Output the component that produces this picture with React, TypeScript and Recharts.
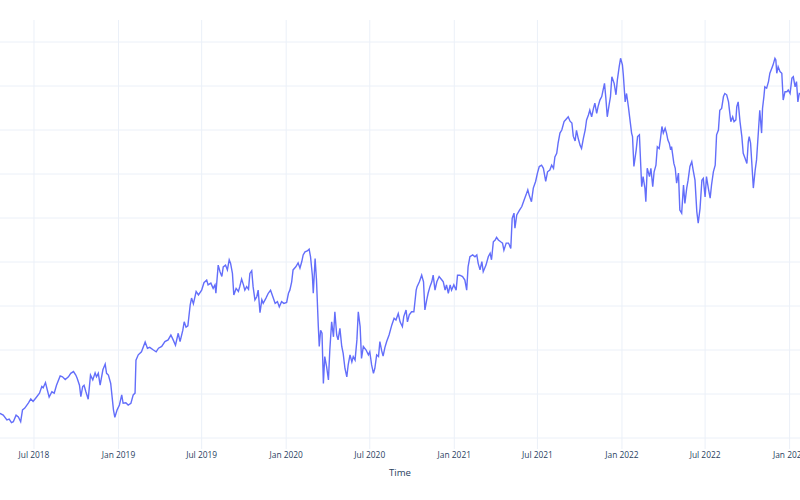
import { LineChart, Line, XAxis, YAxis, CartesianGrid } from "recharts";

// x positions are days counted from 1 Jul 2018
const BASE_DATE = Date.UTC(2018, 6, 1);
const DAY_MS = 86400000;

const tickDates = [
  "2018-07-01", "2019-01-01", "2019-07-01", "2020-01-01", "2020-07-01",
  "2021-01-01", "2021-07-01", "2022-01-01", "2022-07-01", "2023-01-01",
];
const tickLabels = [
  "Jul 2018", "Jan 2019", "Jul 2019", "Jan 2020", "Jul 2020",
  "Jan 2021", "Jul 2021", "Jan 2022", "Jul 2022", "Jan 2023",
];

// y labels are cut off in the original, so the scale is relative (one gridline = 10)
const yTicks = [80, 90, 100, 110, 120, 130, 140, 150, 160, 170];

const dayOffsets = [
  -78, -74, -67, -59, -54, -49, -45, -39, -34, -29,
  -25, -20, -12, -7, -2, 4, 12, 17, 20, 25,
  29, 33, 39, 44, 49, 57, 62, 68, 75, 80,
  86, 91, 94, 99, 102, 106, 109, 113, 118, 123,
  128, 133, 136, 140, 144, 150, 155, 158, 162, 167,
  170, 173, 176, 181, 186, 191, 194, 200, 205, 211,
  216, 220, 222, 227, 234, 242, 247, 252, 260, 266,
  271, 278, 285, 292, 298, 303, 308, 314, 318, 324,
  327, 331, 335, 340, 343, 347, 353, 358, 365, 370,
  376, 379, 385, 390, 394, 396, 401, 405, 409, 412,
  417, 421, 425, 428, 432, 435, 440, 445, 448, 452,
  456, 459, 463, 467, 470, 474, 477, 481, 485, 488,
  492, 496, 499, 505, 510, 515, 520, 525, 530, 534,
  539, 544, 550, 554, 557, 561, 564, 570, 575, 579,
  583, 586, 590, 595, 599, 602, 606, 608, 612, 615,
  619, 621, 624, 627, 630, 633, 637, 641, 644, 648,
  652, 655, 659, 662, 666, 670, 673, 677, 681, 684,
  688, 692, 695, 699, 703, 706, 710, 713, 717, 723,
  728, 731, 735, 739, 742, 746, 750, 753, 757, 760,
  764, 768, 773, 779, 784, 788, 793, 797, 802, 805,
  810, 813, 817, 822, 827, 832, 834, 839, 844, 848,
  851, 855, 858, 862, 866, 869, 873, 877, 882, 888,
  891, 895, 898, 902, 906, 909, 914, 919, 922, 927,
  933, 938, 942, 945, 949, 955, 960, 964, 967, 971,
  975, 978, 984, 989, 993, 996, 1000, 1004, 1007, 1011,
  1016, 1020, 1023, 1028, 1033, 1038, 1041, 1045, 1047, 1051,
  1057, 1062, 1067, 1071, 1075, 1078, 1083, 1087, 1092, 1096,
  1100, 1105, 1109, 1114, 1118, 1123, 1127, 1131, 1134, 1138,
  1141, 1145, 1149, 1154, 1158, 1163, 1167, 1171, 1174, 1178,
  1181, 1185, 1189, 1192, 1196, 1200, 1203, 1207, 1210, 1214,
  1218, 1221, 1225, 1228, 1232, 1236, 1239, 1242, 1245, 1248,
  1252, 1255, 1258, 1263, 1267, 1270, 1274, 1277, 1281, 1283,
  1287, 1290, 1294, 1297, 1301, 1303, 1306, 1311, 1314, 1318,
  1321, 1323, 1326, 1330, 1332, 1335, 1340, 1343, 1347, 1350,
  1354, 1357, 1361, 1364, 1367, 1370, 1374, 1377, 1380, 1383,
  1386, 1388, 1390, 1393, 1396, 1399, 1403, 1406, 1410, 1414,
  1417, 1421, 1424, 1428, 1432, 1435, 1439, 1443, 1446, 1450,
  1454, 1457, 1461, 1464, 1468, 1472, 1475, 1479, 1483, 1486,
  1490, 1493, 1497, 1501, 1504, 1508, 1512, 1514, 1517, 1521,
  1524, 1528, 1530, 1533, 1537, 1541, 1544, 1548, 1552, 1555,
  1557, 1560, 1563, 1566, 1570, 1573, 1577, 1580, 1584, 1586,
  1589, 1591, 1595, 1599, 1602, 1606, 1609, 1613, 1615, 1617,
  1620, 1624, 1628, 1631, 1635, 1639, 1642, 1646, 1650, 1653,
  1657, 1660, 1663, 1666, 1672,
];

const prices = [
  85.9, 85.6, 85.2, 84.1, 84.3, 83.5, 83.7, 85.2, 84.8, 83.7,
  86.4, 86.8, 88.0, 88.9, 88.3, 89.1, 90.2, 91.7, 91.4, 92.6,
  90.9, 89.3, 90.5, 90.2, 92.0, 94.1, 93.9, 93.3, 93.9, 94.7,
  95.1, 94.3, 93.6, 92.0, 89.4, 91.7, 92.0, 90.5, 88.8, 94.3,
  93.2, 94.8, 93.9, 94.7, 92.0, 95.5, 96.8, 94.7, 94.3, 92.4,
  89.4, 86.4, 84.7, 86.4, 87.5, 89.8, 87.9, 88.0, 87.5, 87.9,
  89.8, 90.2, 97.7, 98.9, 99.6, 101.8, 100.4, 100.6, 100.0, 99.6,
  100.4, 100.8, 101.9, 102.3, 103.4, 102.3, 101.1, 103.8, 101.9, 104.5,
  106.4, 105.2, 105.5, 110.2, 111.8, 110.5, 113.3, 112.5, 113.6, 115.3,
  115.9, 114.8, 115.2, 114.0, 114.8, 112.9, 119.3, 117.8, 116.7, 118.9,
  119.3, 118.2, 120.5, 119.7, 117.4, 112.5, 114.0, 113.3, 114.4, 116.1,
  114.8, 113.6, 114.4, 113.8, 117.4, 118.0, 114.4, 111.4, 112.1, 113.6,
  108.5, 111.4, 110.6, 111.8, 112.9, 113.6, 112.1, 110.6, 111.0, 109.8,
  111.0, 110.6, 110.8, 112.9, 113.6, 115.5, 118.2, 118.9, 119.8, 118.6,
  120.1, 121.6, 122.3, 122.5, 122.9, 121.2, 117.0, 112.9, 120.8, 115.9,
  105.3, 100.8, 104.5, 103.8, 92.4, 98.5, 96.2, 93.2, 100.0, 106.4,
  103.0, 108.7, 103.4, 102.3, 104.9, 100.8, 99.3, 95.8, 93.9, 96.6,
  98.9, 97.3, 98.5, 97.7, 102.3, 108.7, 105.3, 98.1, 100.8, 100.0,
  98.9, 99.6, 96.6, 94.7, 95.8, 98.9, 98.5, 101.9, 99.8, 98.6,
  100.6, 102.0, 103.4, 105.7, 107.2, 106.8, 108.3, 106.4, 105.3, 107.6,
  109.1, 106.4, 108.0, 108.7, 108.7, 113.6, 114.4, 115.5, 117.0, 115.5,
  109.1, 111.4, 112.9, 114.4, 115.5, 117.0, 113.6, 115.5, 116.7, 115.9,
  115.5, 113.6, 114.8, 112.9, 114.8, 113.6, 114.8, 113.6, 117.0, 117.0,
  116.7, 115.9, 113.6, 118.9, 121.2, 121.6, 121.2, 121.6, 119.7, 118.2,
  120.1, 117.8, 119.3, 121.2, 122.0, 120.5, 124.6, 125.0, 125.6, 125.0,
  124.6, 124.3, 122.7, 124.3, 124.3, 123.1, 129.9, 131.1, 127.7, 130.7,
  131.8, 132.6, 134.1, 135.2, 136.4, 135.2, 133.7, 136.8, 138.3, 140.2,
  141.7, 142.0, 141.3, 138.3, 140.5, 140.9, 142.0, 141.3, 143.9, 144.7,
  147.0, 149.3, 150.0, 151.9, 152.4, 153.0, 152.0, 151.6, 148.6, 147.5,
  149.9, 148.0, 146.5, 145.8, 148.1, 150.0, 152.3, 153.4, 154.5, 153.0,
  154.9, 156.1, 153.8, 155.3, 156.8, 157.6, 159.1, 160.6, 157.2, 153.0,
  155.7, 157.6, 162.1, 160.6, 158.0, 161.4, 164.4, 166.3, 164.8, 162.5,
  156.4, 158.3, 155.3, 152.7, 149.3, 148.5, 141.7, 145.5, 148.5, 148.9,
  141.7, 137.1, 139.4, 136.8, 133.7, 141.3, 139.4, 141.3, 137.1, 140.5,
  142.0, 146.2, 145.8, 148.1, 150.8, 149.3, 150.4, 149.3, 147.7, 147.0,
  145.5, 146.2, 144.7, 142.4, 141.3, 137.9, 140.2, 131.8, 131.1, 137.5,
  133.3, 136.8, 138.6, 141.7, 142.8, 140.9, 138.6, 131.4, 128.8, 132.2,
  138.6, 139.0, 134.8, 139.4, 136.8, 134.5, 137.5, 140.5, 142.0, 148.9,
  150.0, 154.5, 154.9, 157.6, 158.3, 158.0, 156.4, 154.5, 151.9, 153.0,
  151.9, 152.3, 155.3, 156.4, 151.9, 148.5, 144.7, 143.6, 142.4, 147.3,
  148.5, 147.0, 142.0, 136.8, 140.9, 143.2, 149.6, 154.5, 149.3, 154.9,
  157.6, 159.8, 159.5, 161.0, 162.9, 164.0, 164.8, 166.3, 165.9, 162.9,
  164.4, 163.3, 162.9, 156.8, 158.7, 158.7, 159.1, 158.3, 161.8, 162.1,
  159.8, 161.0, 156.4, 158.3, 158.0,
];

const xTicks = tickDates.map((s) => (Date.parse(s) - BASE_DATE) / DAY_MS);
const data = dayOffsets.map((day, i) => ({ day, value: prices[i] }));

const FONT = "'Open Sans', verdana, arial, sans-serif";
const TEXT_COLOR = "#2a3f5f";

export default function App() {
  return (
    <div style={{ position: "absolute", left: 0, top: 0, width: 800, height: 500, background: "#fff" }}>
      <LineChart
        width={800}
        height={500}
        data={data}
        margin={{ top: 20, right: 0, bottom: 21, left: 0 }}
      >
        <CartesianGrid
          stroke="#EBF0F8"
          strokeWidth={1}
          horizontalValues={yTicks}
          verticalValues={xTicks}
        />
        <XAxis
          dataKey="day"
          type="number"
          domain={[-74, 1667.6]}
          allowDataOverflow
          ticks={xTicks}
          interval={0}
          tickFormatter={(v: number) => tickLabels[xTicks.indexOf(v)] ?? ""}
          tick={{ fontSize: 8.4, fill: TEXT_COLOR, fontFamily: FONT }}
          tickLine={false}
          axisLine={false}
          tickSize={0}
          tickMargin={3}
          height={30}
          label={{
            value: "Time",
            position: "insideBottom",
            offset: 3,
            fontSize: 9.6,
            fill: TEXT_COLOR,
            fontFamily: FONT,
          }}
        />
        <YAxis
          type="number"
          domain={[77.5, 175]}
          ticks={yTicks}
          allowDataOverflow
          hide
        />
        <Line
          type="linear"
          dataKey="value"
          stroke="#636efa"
          strokeWidth={1.4}
          dot={false}
          isAnimationActive={false}
        />
      </LineChart>
    </div>
  );
}
